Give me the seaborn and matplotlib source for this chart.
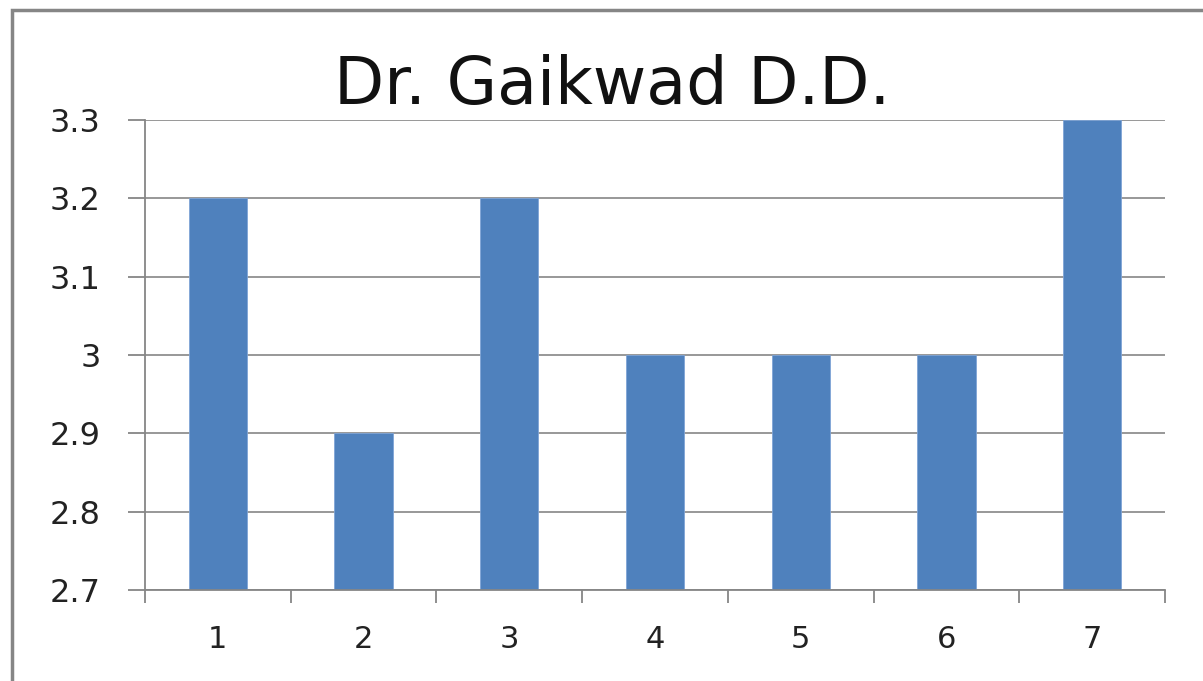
import pandas as pd
import matplotlib.pyplot as plt
import matplotlib.patches as mpatches
import seaborn as sns

# data
categories = ['1', '2', '3', '4', '5', '6', '7']
scores = [3.2, 2.9, 3.2, 3.0, 3.0, 3.0, 3.3]
y_ticks = [2.7, 2.8, 2.9, 3.0, 3.1, 3.2, 3.3]
y_labels = ['2.7', '2.8', '2.9', '3', '3.1', '3.2', '3.3']
title = 'Dr. Gaikwad D.D.'

sns.set_style('white')
plt.rcParams['font.family'] = ['DejaVu Sans']

grey = '#868686'
fig = plt.figure(figsize=(12.03, 6.81), dpi=100)
ax = fig.add_axes([145 / 1203, 1 - 590 / 681, 1020 / 1203, 470 / 681])

df = pd.DataFrame({'cat': categories, 'score': scores})
sns.barplot(data=df, x='cat', y='score', color='#4F81BD', saturation=1,
            width=0.4, edgecolor='#7FA4D6', linewidth=0.6, ax=ax)

ax.set_xlim(-0.5, len(categories) - 0.5)
ax.set_ylim(2.7, 3.3)
ax.set_yticks(y_ticks)
ax.set_yticklabels(y_labels)
ax.yaxis.grid(True, color=grey, linewidth=1.2)
ax.set_axisbelow(True)
ax.set_xlabel('')
ax.set_ylabel('')

# excel style ticks between categories
ax.set_xticks([i + 0.5 for i in range(-1, len(categories))], minor=True)
ax.tick_params(axis='x', which='minor', bottom=True, length=9, width=1.3,
               color=grey, direction='out')
ax.tick_params(axis='x', which='major', bottom=True, length=0, pad=25,
               labelsize=22, labelcolor='#222222')
ax.tick_params(axis='y', left=True, length=12, width=1.3, color=grey,
               pad=20, labelsize=23, labelcolor='#222222')

for side in ['top', 'right']:
    ax.spines[side].set_visible(False)
for side in ['left', 'bottom']:
    ax.spines[side].set_color(grey)
    ax.spines[side].set_linewidth(1.3)

fig.text(612 / 1203, 1 - 104 / 681, title, ha='center', va='baseline',
         fontsize=47, color='#111111')

# outer chart frame (only left and top visible in the crop)
fig.patches.append(mpatches.Rectangle((12 / 1203, -0.1), 1.2, 1 - 10 / 681 + 0.1,
                                      transform=fig.transFigure, fill=False,
                                      edgecolor=grey, linewidth=2.5))

plt.savefig('out.png', dpi=100)
